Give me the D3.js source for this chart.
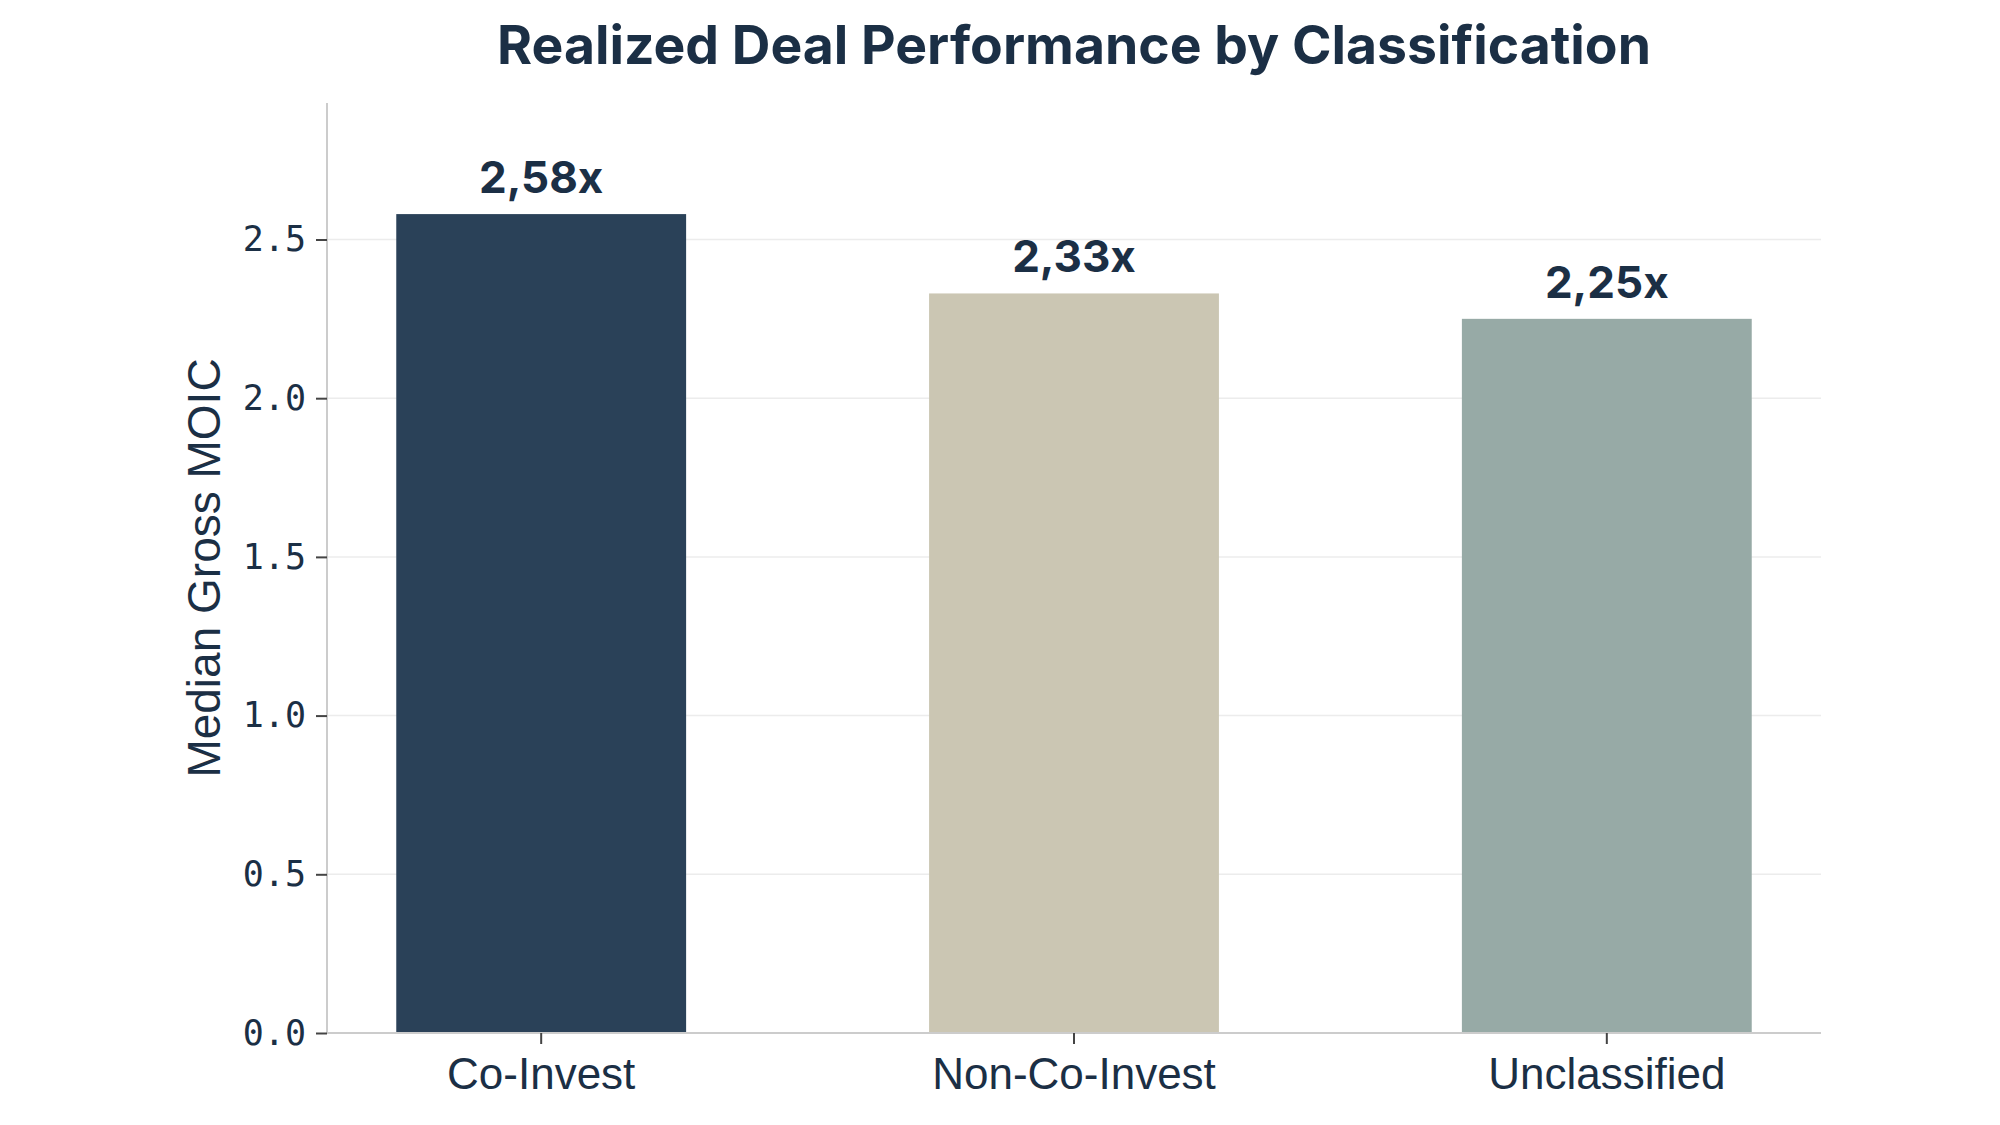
<!DOCTYPE html>
<html>
<head>
<meta charset="utf-8">
<script src="https://cdn.jsdelivr.net/npm/d3@7"></script>
<style>
  html, body { margin: 0; padding: 0; background: #ffffff; }
  svg { display: block; }
</style>
</head>
<body>
<svg id="chart" width="2000" height="1125"></svg>
<script>
const categories = ["Co-Invest", "Non-Co-Invest", "Unclassified"];
const values = [2.58, 2.33, 2.25];
const valueLabels = ["2,58x", "2,33x", "2,25x"];
const barColors = ["#2a4158", "#cbc6b3", "#97aaa6"];
const yTicks = [0, 0.5, 1.0, 1.5, 2.0, 2.5];
const titleText = "Realized Deal Performance by Classification";
const yTitle = "Median Gross MOIC";

const textColor = "#1b2f45";
const svg = d3.select("#chart");
const margin = { left: 327, right: 179, top: 103, bottom: 92 };
const W = 2000, H = 1125;

const x = d3.scaleBand()
  .domain(categories)
  .range([margin.left, W - margin.right])
  .paddingInner(0.456)
  .paddingOuter(0.13);

const y = d3.scaleLinear()
  .domain([0, 2.93])
  .range([H - margin.bottom, margin.top]);

// gridlines
svg.append("g")
  .selectAll("line")
  .data(yTicks.filter(d => d > 0))
  .join("line")
  .attr("x1", margin.left)
  .attr("x2", W - margin.right)
  .attr("y1", d => y(d))
  .attr("y2", d => y(d))
  .attr("stroke", "#ececec")
  .attr("stroke-width", 1.5);

// bars
svg.append("g")
  .selectAll("rect")
  .data(categories)
  .join("rect")
  .attr("x", d => x(d))
  .attr("width", x.bandwidth())
  .attr("y", (d, i) => y(values[i]))
  .attr("height", (d, i) => y(0) - y(values[i]))
  .attr("fill", (d, i) => barColors[i]);

// value labels
svg.append("g")
  .selectAll("text")
  .data(categories)
  .join("text")
  .attr("x", d => x(d) + x.bandwidth() / 2)
  .attr("y", (d, i) => y(values[i]) - 21)
  .attr("text-anchor", "middle")
  .attr("fill", textColor)
  .attr("font-family", "Inter, 'Liberation Sans', sans-serif")
  .attr("font-weight", 700)
  .attr("font-size", 44)
  .text((d, i) => valueLabels[i]);

// y axis
const yAxis = svg.append("g")
  .attr("transform", `translate(${margin.left},0)`)
  .call(d3.axisLeft(y).tickValues(yTicks).tickFormat(d3.format(".1f")).tickSize(11).tickPadding(10));
yAxis.select(".domain").attr("stroke", "#cccccc").attr("stroke-width", 2)
  .attr("d", `M0,${margin.top}V${y(0)}`);
yAxis.selectAll(".tick line").attr("stroke", "#444").attr("stroke-width", 2);
yAxis.selectAll(".tick text")
  .attr("fill", textColor)
  .attr("font-family", "'DejaVu Sans Mono', monospace")
  .attr("font-size", 35);

// x axis
const xAxis = svg.append("g")
  .attr("transform", `translate(0,${y(0)})`)
  .call(d3.axisBottom(x).tickSize(11).tickPadding(14));
xAxis.select(".domain").attr("stroke", "#cccccc").attr("stroke-width", 2)
  .attr("d", `M${margin.left},0H${W - margin.right}`);
xAxis.selectAll(".tick line").attr("stroke", "#444").attr("stroke-width", 2);
xAxis.selectAll(".tick text")
  .attr("fill", textColor)
  .attr("font-family", "'Liberation Sans', Arial, sans-serif")
  .attr("font-size", 44)
  .attr("dy", "0.71em");

// y title
svg.append("text")
  .attr("transform", `translate(220,${(margin.top + y(0)) / 2}) rotate(-90)`)
  .attr("text-anchor", "middle")
  .attr("fill", textColor)
  .attr("font-family", "'Liberation Sans', Arial, sans-serif")
  .attr("font-size", 46)
  .text(yTitle);

// title
svg.append("text")
  .attr("x", 1074)
  .attr("y", 64)
  .attr("text-anchor", "middle")
  .attr("fill", textColor)
  .attr("font-family", "Inter, 'Liberation Sans', sans-serif")
  .attr("font-weight", 700)
  .attr("font-size", 53.5)
  .text(titleText);
</script>
</body>
</html>
